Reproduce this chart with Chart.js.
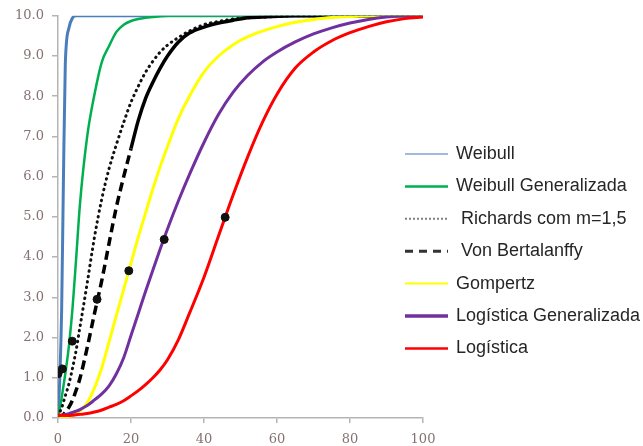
<!DOCTYPE html>
<html>
<head>
<meta charset="utf-8">
<script src="https://cdn.jsdelivr.net/npm/chart.js@4.4.1/dist/chart.umd.min.js"></script>
<style>
    html, body { margin: 0; padding: 0; background: #fff; }
    #wrap { position: relative; width: 643px; height: 446px; }
</style>
</head>
<body>
<div id="wrap"><canvas id="growthChart"></canvas></div>
<script>
// x grid (shared by all curves)
const xValues = [0, 0.5, 1, 1.5, 2, 3, 4, 5, 6, 8, 10, 12, 14, 16, 18, 20, 22, 24, 26, 28, 30, 33, 36, 40, 44, 48, 52, 56, 60, 65, 70, 75, 80, 85, 90, 95, 100];

// curves
const weibull = [0, 1.0, 2.7, 6.0, 8.8, 9.7, 9.95, 10, 10, 10, 10, 10, 10, 10, 10, 10, 10, 10, 10, 10, 10, 10, 10, 10, 10, 10, 10, 10, 10, 10, 10, 10, 10, 10, 10, 10, 10];
const weibullGen = [0, 0.25, 0.5, 0.8, 1.1, 1.8, 2.75, 4.0, 5.3, 7.0, 8.05, 8.85, 9.25, 9.6, 9.78, 9.87, 9.92, 9.95, 9.97, 9.99, 10, 10, 10, 10, 10, 10, 10, 10, 10, 10, 10, 10, 10, 10, 10, 10, 10];
const richards = [0.05, 0.15, 0.25, 0.4, 0.55, 0.85, 1.25, 1.7, 2.25, 3.35, 4.5, 5.45, 6.2, 6.8, 7.35, 7.85, 8.25, 8.6, 8.87, 9.1, 9.27, 9.46, 9.62, 9.78, 9.86, 9.92, 9.95, 9.97, 9.98, 10, 10, 10, 10, 10, 10, 10, 10];
const bertalanffy = [0, 0.02, 0.05, 0.09, 0.14, 0.27, 0.45, 0.7, 0.98, 1.75, 2.6, 3.42, 4.35, 5.25, 6.0, 6.7, 7.4, 7.95, 8.35, 8.7, 9.0, 9.35, 9.57, 9.72, 9.82, 9.89, 9.95, 9.97, 9.99, 10, 10, 10, 10, 10, 10, 10, 10];
const gompertz = [0, 0, 0.01, 0.01, 0.02, 0.04, 0.07, 0.11, 0.17, 0.38, 0.75, 1.25, 1.9, 2.55, 3.2, 3.85, 4.5, 5.1, 5.7, 6.25, 6.75, 7.45, 8.0, 8.6, 9.0, 9.28, 9.48, 9.62, 9.73, 9.84, 9.91, 9.96, 9.98, 10, 10, 10, 10];
const logisticaGen = [0.05, 0.06, 0.07, 0.08, 0.09, 0.11, 0.14, 0.17, 0.21, 0.31, 0.45, 0.6, 0.8, 1.1, 1.5, 2.05, 2.6, 3.15, 3.68, 4.2, 4.7, 5.4, 6.05, 6.85, 7.55, 8.1, 8.52, 8.85, 9.1, 9.35, 9.55, 9.7, 9.82, 9.91, 9.97, 10, 10];
const logistica = [0.08, 0.07, 0.07, 0.06, 0.06, 0.06, 0.07, 0.08, 0.09, 0.11, 0.15, 0.2, 0.27, 0.34, 0.43, 0.55, 0.68, 0.83, 1.0, 1.2, 1.45, 1.95, 2.6, 3.5, 4.53, 5.55, 6.5, 7.35, 8.05, 8.7, 9.1, 9.38, 9.58, 9.73, 9.85, 9.93, 9.97];

// observed points (black dots)
const obsX = [0, 1.2, 3.9, 10.7, 19.4, 29.1, 45.8];
const obsY = [1.1, 1.22, 1.91, 2.95, 3.66, 4.44, 4.99];

const seriesNames = ["Weibull", "Weibull Generalizada", "Richards com m=1,5", "Von Bertalanffy", "Gompertz", "Logística Generalizada", "Logística"];

const xTicks = [0, 20, 40, 60, 80, 100];

function toPoints(ys) {
    return xValues.map((x, i) => ({ x: x, y: ys[i] }));
}

// line styles, plot + legend sample
const lineStyles = [
    { color: "#4a7ebb", width: 3, dash: [], legendColor: "#7fa3d0", legendWidth: 1.5, legendDash: [] },
    { color: "#00b050", width: 2.5, dash: [], legendColor: "#00b050", legendWidth: 2.5, legendDash: [] },
    { color: "#111111", width: 3, dash: [0.5, 5], legendColor: "#808080", legendWidth: 2, legendDash: [2, 2] },
    { color: "#000000", width: 3.5, dash: [9, 5], legendColor: "#333333", legendWidth: 3, legendDash: [8, 6] },
    { color: "#ffff00", width: 3, dash: [], legendColor: "#ffff00", legendWidth: 2, legendDash: [] },
    { color: "#7030a0", width: 3, dash: [], legendColor: "#7030a0", legendWidth: 3.5, legendDash: [] },
    { color: "#ff0000", width: 3, dash: [], legendColor: "#ff0000", legendWidth: 2.5, legendDash: [] },
];

const curves = [weibull, weibullGen, richards, bertalanffy, gompertz, logisticaGen, logistica];

const datasets = curves.map((ys, i) => {
    const st = lineStyles[i];
    const ds = {
        type: "line",
        label: seriesNames[i],
        data: toPoints(ys),
        borderColor: st.color,
        borderWidth: st.width,
        borderDash: st.dash,
        borderCapStyle: i === 2 ? "round" : "butt",
        pointRadius: 0,
        fill: false,
        cubicInterpolationMode: "monotone",
        order: curves.length - i,
    };
    // Von Bertalanffy turns solid near the top
    if (i === 3) {
        ds.segment = {
            borderDash: ctx => ctx.p0.parsed.y < 6.6 ? [9, 5] : [],
        };
    }
    return ds;
});

datasets.push({
    type: "scatter",
    label: "obs",
    data: obsX.map((x, i) => ({ x: x, y: obsY[i] })),
    backgroundColor: "#111111",
    borderColor: "#111111",
    pointRadius: 4,
    order: 0,
});

// legend drawn at the right, overlapping the plot's edge like the original
const sideLegend = {
    id: "sideLegend",
    afterDraw(chart) {
        const ctx = chart.ctx;
        ctx.save();
        ctx.font = "18px 'Liberation Sans', Arial, sans-serif";
        ctx.textBaseline = "middle";
        seriesNames.forEach((name, i) => {
            const st = lineStyles[i];
            const y = 154 + i * 32.4;
            ctx.beginPath();
            ctx.strokeStyle = st.legendColor;
            ctx.lineWidth = st.legendWidth;
            ctx.setLineDash(st.legendDash);
            ctx.moveTo(405, y);
            ctx.lineTo(448, y);
            ctx.stroke();
            ctx.setLineDash([]);
            ctx.fillStyle = "#262626";
            const tx = (i === 2 || i === 3) ? 461 : 456;
            ctx.fillText(name, tx, y);
        });
        ctx.restore();
    },
};

const axisColor = "#b4b4b4";
const tickFont = { family: "'DejaVu Serif', serif", size: 13 };
const tickColor = "#857272";

new Chart(document.getElementById("growthChart"), {
    type: "line",
    data: { datasets: datasets },
    options: {
        responsive: true,
        maintainAspectRatio: false,
        animation: false,
        layout: { padding: { top: 15, right: 220, left: 0, bottom: 0 } },
        plugins: {
            legend: { display: false },
            tooltip: { enabled: false },
        },
        scales: {
            x: {
                type: "linear",
                min: 0,
                max: 100,
                afterBuildTicks: scale => { scale.ticks = xTicks.map(v => ({ value: v })); },
                afterFit: scale => { scale.height = 28; },
                border: { display: true, color: axisColor, width: 1.5 },
                grid: { drawOnChartArea: false, drawTicks: true, tickLength: 5, color: axisColor, lineWidth: 1.5 },
                ticks: { font: tickFont, color: tickColor, padding: 9, maxRotation: 0 },
            },
            y: {
                type: "linear",
                min: 0,
                max: 10,
                afterFit: scale => { scale.width = 58; },
                border: { display: true, color: axisColor, width: 1.5 },
                grid: { drawOnChartArea: false, drawTicks: true, tickLength: 6, color: axisColor, lineWidth: 1.5 },
                ticks: {
                    stepSize: 1,
                    font: tickFont,
                    color: tickColor,
                    padding: 8,
                    callback: v => v.toFixed(1),
                },
            },
        },
    },
    plugins: [sideLegend],
});
</script>
</body>
</html>
